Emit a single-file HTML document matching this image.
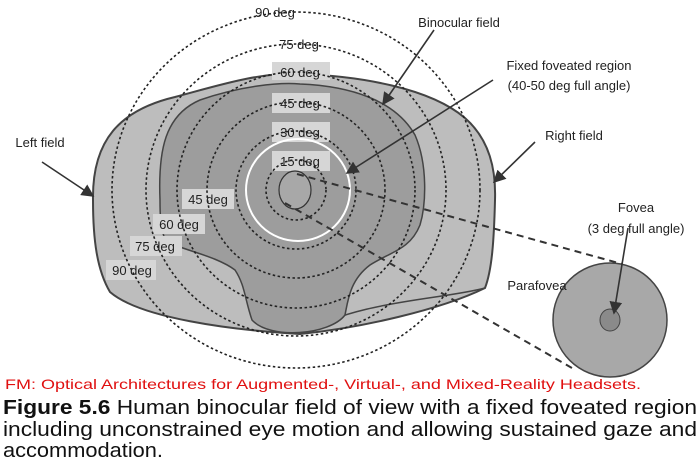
<!DOCTYPE html>
<html><head><style>
html,body{margin:0;padding:0;background:#fff;width:700px;height:474px;overflow:hidden}
svg{display:block}
</style></head><body>
<svg width="700" height="474" viewBox="0 0 700 474" xmlns="http://www.w3.org/2000/svg" font-family="Liberation Sans, sans-serif">
<defs><marker id="ah" markerWidth="8" markerHeight="8" refX="7" refY="4" orient="auto"><path d="M0,0 L8,4 L0,8 z" fill="#333"/></marker></defs>
<!-- outer field -->
<path d="M93,200 C92,140 120,110 175,97 C220,85 260,72 300,74 C360,76 430,88 465,118 C490,140 496,170 495,200 C494,240 492,270 485,288 C440,310 360,328 300,334 C230,330 140,318 110,292 C97,270 93,240 93,200 Z" fill="#bdbdbd" stroke="#444" stroke-width="2"/>
<path d="M300,334 C360,300 440,300 485,288" fill="none" stroke="#444" stroke-width="1.5"/>
<!-- binocular -->
<path d="M160,200 C158,150 165,115 200,100 C240,86 280,82 300,84 C350,86 395,100 415,135 C428,165 426,205 420,225 C410,250 390,252 370,265 C350,280 348,300 345,315 C330,335 270,340 252,320 C245,300 245,285 235,270 C215,255 180,250 165,240 C160,225 160,212 160,200 Z" fill="#9d9d9d" stroke="#444" stroke-width="1.5"/>
<!-- label boxes -->
<g fill="#d6d6d6">
<rect x="272" y="62" width="58" height="18"/><rect x="272" y="93" width="58" height="20"/><rect x="272" y="122" width="58" height="20"/><rect x="272" y="151" width="58" height="20"/>
<rect x="182" y="189" width="52" height="20"/><rect x="153" y="214" width="52" height="20"/><rect x="130" y="236" width="52" height="20"/><rect x="106" y="260" width="50" height="20"/>
</g>
<!-- dashed circles -->
<g fill="none" stroke="#222" stroke-width="1.6" stroke-dasharray="2.5,2.5">
<ellipse cx="296" cy="190" rx="30" ry="30"/>
<ellipse cx="296" cy="190" rx="60" ry="59"/>
<ellipse cx="296" cy="190" rx="89" ry="88"/>
<ellipse cx="296" cy="190" rx="119" ry="118"/>
<ellipse cx="296" cy="190" rx="150" ry="146"/>
<ellipse cx="296" cy="190" rx="184" ry="178"/>
</g>
<ellipse cx="298" cy="190" rx="52" ry="51" fill="none" stroke="#fff" stroke-width="2"/>
<ellipse cx="295" cy="190" rx="16" ry="19" fill="#a8a8a8" stroke="#333" stroke-width="1.2"/>
<!-- dashed connectors -->
<g stroke="#333" stroke-width="2" stroke-dasharray="7,5">
<line x1="297" y1="174" x2="622" y2="264"/>
<line x1="285" y1="203" x2="572" y2="368"/>
</g>
<!-- parafovea -->
<circle cx="610" cy="320" r="57" fill="#a8a8a8" stroke="#444" stroke-width="1.5"/>
<ellipse cx="610" cy="320" rx="10" ry="11" fill="#8a8a8a" stroke="#444"/>
<!-- labels -->
<g font-size="13" fill="#222" text-anchor="middle">
<text x="275" y="17">90 deg</text><text x="299" y="49">75 deg</text><text x="300" y="77">60 deg</text><text x="300" y="108">45 deg</text><text x="300" y="137">30 deg</text><text x="300" y="166">15 deg</text>
<text x="208" y="204">45 deg</text><text x="179" y="229">60 deg</text><text x="155" y="251">75 deg</text><text x="132" y="275">90 deg</text>
<text x="459" y="27">Binocular field</text>
<text x="569" y="70">Fixed foveated region</text><text x="569" y="90">(40-50 deg full angle)</text>
<text x="574" y="140">Right field</text>
<text x="40" y="147">Left field</text>
<text x="636" y="212">Fovea</text><text x="636" y="233">(3 deg full angle)</text>
<text x="537" y="290">Parafovea</text>
</g>
<!-- arrows -->
<g stroke="#333" stroke-width="1.6" fill="none" marker-end="url(#ah)">
<line x1="434" y1="30" x2="383" y2="104"/>
<line x1="493" y1="80" x2="347" y2="173"/>
<line x1="535" y1="142" x2="494" y2="182"/>
<line x1="42" y1="162" x2="93" y2="196"/>
<line x1="628" y1="228" x2="614" y2="313"/>
</g>
<text x="5" y="389" font-size="14" fill="#e01010" textLength="636" lengthAdjust="spacingAndGlyphs">FM: Optical Architectures for Augmented-, Virtual-, and Mixed-Reality Headsets.</text>
<g font-size="20" fill="#111">
<text x="3" y="414" textLength="694" lengthAdjust="spacingAndGlyphs"><tspan font-weight="bold">Figure 5.6</tspan> Human binocular field of view with a fixed foveated region</text>
<text x="3" y="436" textLength="694" lengthAdjust="spacingAndGlyphs">including unconstrained eye motion and allowing sustained gaze and</text>
<text x="3" y="457" textLength="160" lengthAdjust="spacingAndGlyphs">accommodation.</text>
</g>
</svg>
</body></html>
